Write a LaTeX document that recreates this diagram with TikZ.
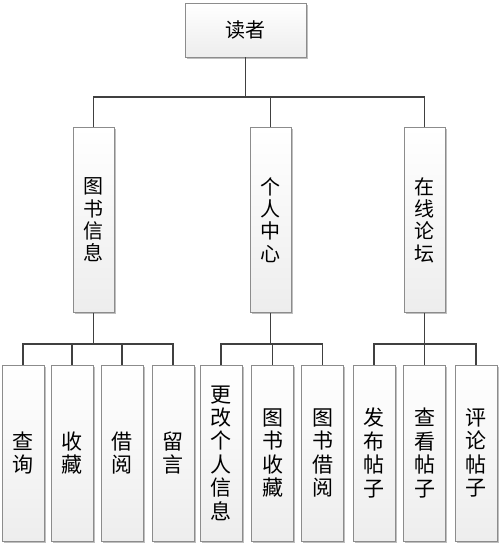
\documentclass[tikz,border=0pt]{standalone}
\usepackage{fontspec}
\setmainfont{Noto Sans CJK SC}
\usetikzlibrary{shadows}
\definecolor{linec}{HTML}{404040}
\definecolor{boxc}{HTML}{8C8C8C}
\tikzset{
  box/.style={draw=boxc, line width=0.9pt, top color=white, bottom color=gray!14,
    drop shadow={shadow xshift=1.5pt,shadow yshift=-1.5pt,opacity=0.25,fill=black},
    inner sep=0pt, align=center, text=black},
  topbox/.style={box, minimum width=121pt, minimum height=54pt, font=\fontsize{20}{22}\selectfont},
  midbox/.style={box, minimum width=41pt, minimum height=185pt, font=\fontsize{20}{22.3}\selectfont},
  leafbox/.style={box, minimum width=42pt, minimum height=176pt, font=\fontsize{21}{23.4}\selectfont},
  conn/.style={draw=linec, line width=1.3pt}
}
\begin{document}
\begin{tikzpicture}[x=1pt,y=-1pt]
\useasboundingbox (0,0) rectangle (500,547);
\coordinate (busA) at (0,97);
\coordinate (busB) at (0,344);

\node[topbox] (reader) at (245.5,30) {读者};

\node[midbox] (info) at (93.5,220) {图\\书\\信\\息};
\node[midbox] (center) at (270.5,220) {个\\人\\中\\心};
\node[midbox] (forum) at (424.5,220) {在\\线\\论\\坛};

\node[leafbox] (q) at (23,453) {查\\询};
\node[leafbox] (sc) at (72,453) {收\\藏};
\node[leafbox] (jy) at (122,453) {借\\阅};
\node[leafbox] (ly) at (173,453) {留\\言};
\node[leafbox] (gg) at (221,453) {更\\改\\个\\人\\信\\息};
\node[leafbox] (tssc) at (272.5,453) {图\\书\\收\\藏};
\node[leafbox] (tsjy) at (322.5,453) {图\\书\\借\\阅};
\node[leafbox] (fb) at (374,453) {发\\布\\帖\\子};
\node[leafbox] (ck) at (424.5,453) {查\\看\\帖\\子};
\node[leafbox] (pl) at (476,453) {评\\论\\帖\\子};

% level 1 -> level 2
\draw[conn] (reader.south) -- (reader.south |- busA);
\draw[conn] (info.north) |- (forum.north |- busA) -- (forum.north);
\draw[conn] (center.north) -- (center.north |- busA);

% info group
\draw[conn] (info.south) -- (info.south |- busB);
\draw[conn] (q.north) |- (ly.north |- busB) -- (ly.north);
\draw[conn] (sc.north) -- (sc.north |- busB);
\draw[conn] (jy.north) -- (jy.north |- busB);

% center group
\draw[conn] (center.south) -- (center.south |- busB);
\draw[conn] (gg.north) |- (tsjy.north |- busB) -- (tsjy.north);
\draw[conn] (tssc.north) -- (tssc.north |- busB);

% forum group
\draw[conn] (forum.south) -- (forum.south |- busB);
\draw[conn] (fb.north) |- (pl.north |- busB) -- (pl.north);
\draw[conn] (ck.north) -- (ck.north |- busB);
\end{tikzpicture}
\end{document}
